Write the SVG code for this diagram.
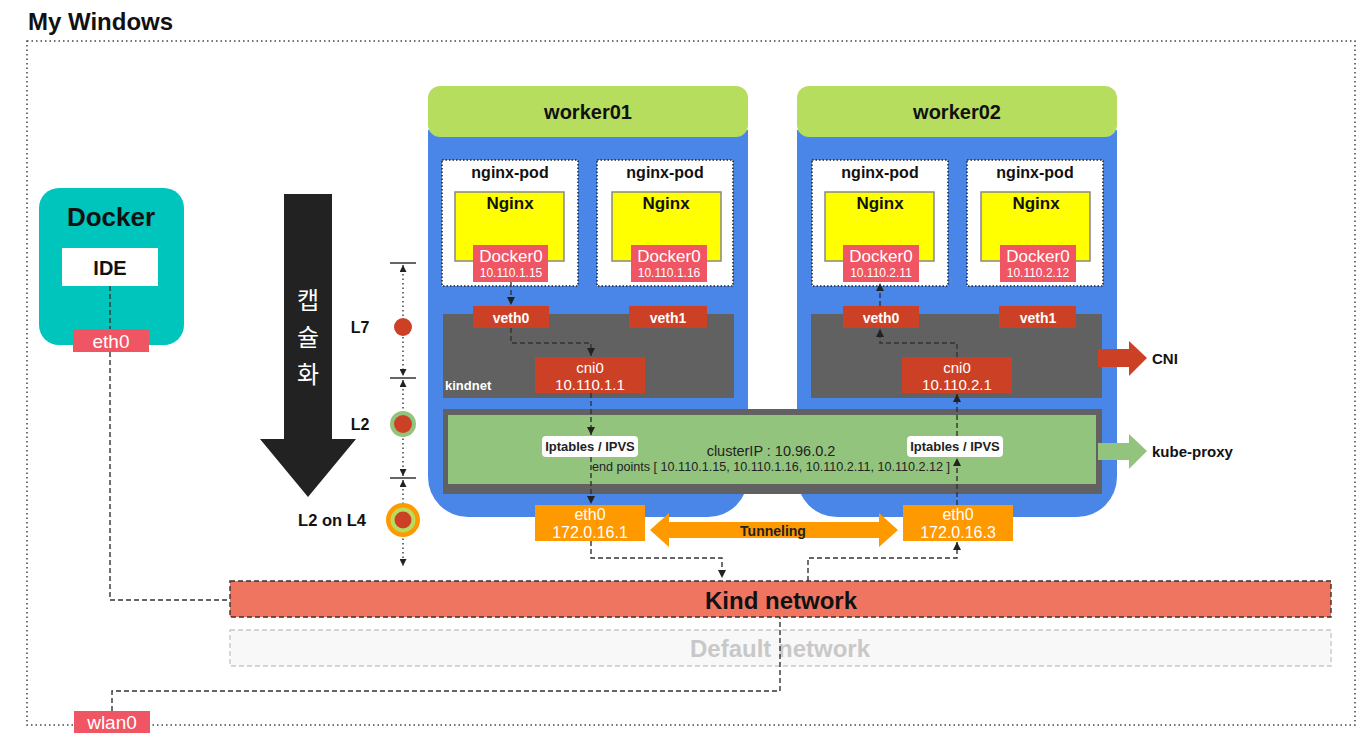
<svg xmlns="http://www.w3.org/2000/svg" width="1365" height="745" viewBox="0 0 1365 745">
<style>
text{font-family:"Liberation Sans",Arial,"Noto Sans CJK KR",sans-serif;}
.b{font-weight:bold;}
.c{text-anchor:middle;dominant-baseline:central;}
.wh{fill:#fff;}
.blk{fill:#111;}
.hdr{fill:#b7dd5f;}
.body{fill:#4a86e8;}
.pod{fill:#fff;stroke:#222;stroke-width:1.5;stroke-dasharray:1.5 2;}
.ngx{fill:#ffff00;stroke:#888;stroke-width:1.5;}
.dk0{fill:#ef5563;}
.veth{fill:#cc4125;}
.gray{fill:#616161;}
.grn{fill:#93c47d;}
.org{fill:#ff9900;}
.ipt{fill:#fff;}
.dash{fill:none;stroke:#333;stroke-width:1.4;stroke-dasharray:5 3;}
.dot{fill:none;stroke:#444;stroke-width:1.5;stroke-dasharray:1.5 3;}
.tick{stroke:#333;stroke-width:1.5;}
.pt{font-size:16px;font-weight:bold;fill:#111;}
.nt{font-size:17px;font-weight:bold;fill:#111;}
.d0{font-size:17px;fill:#fff;}
.ip{font-size:12px;fill:#fff;}
.ko{font-family:"Noto Sans CJK KR",sans-serif;font-size:24px;fill:#fff;}
</style>
<defs>
<marker id="ah" viewBox="0 0 8 8" refX="8" refY="4" markerWidth="8" markerHeight="8" markerUnits="userSpaceOnUse" orient="auto-start-reverse">
<path d="M0,0 L8,4 L0,8 z" fill="#222"/>
</marker>
<marker id="ahs" viewBox="0 0 8 8" refX="8" refY="4" markerWidth="7" markerHeight="7" markerUnits="userSpaceOnUse" orient="auto-start-reverse">
<path d="M0,0 L8,4 L0,8 z" fill="#222"/>
</marker>
</defs>
<rect width="1365" height="745" fill="#fff"/>

<g id="frame">
<rect x="27" y="41" width="1328" height="684" class="dot"/>
<text x="28" y="30" class="b blk" font-size="24">My Windows</text>
</g>

<g id="default-network">
<rect x="230" y="630" width="1101" height="36" fill="#f8f8f8" stroke="#c8c8c8" stroke-width="1.4" stroke-dasharray="5 3"/>
<text x="780" y="648" class="b c" font-size="24" fill="#c8c8c8">Default network</text>
</g>

<g id="kind-network">
<rect x="230" y="581" width="1101" height="36" fill="#f07561" stroke="#333" stroke-width="1.4" stroke-dasharray="5 3"/>
<text x="781" y="600" class="b c blk" font-size="24">Kind network</text>
</g>

<g id="docker">
<rect x="39" y="188" width="145" height="157" rx="20" fill="#00c5bc"/>
<text x="111" y="217" class="b c blk" font-size="26">Docker</text>
<rect x="62" y="248" width="96" height="38" fill="#fff"/>
<text x="110" y="268" class="b c blk" font-size="20">IDE</text>
<rect x="73" y="329" width="76" height="23" class="dk0"/>
<text x="111" y="341" class="c wh" font-size="19">eth0</text>
</g>

<g id="wlan0">
<rect x="74" y="711" width="76" height="22" class="dk0"/>
<text x="112" y="722" class="c wh" font-size="19">wlan0</text>
</g>

<g id="encapsulation">
<polygon points="284,194 332,194 332,439 356,439 308,497 260,439 284,439" fill="#222"/>
<text x="308" y="298" class="c ko">캡</text>
<text x="308" y="335" class="c ko">슐</text>
<text x="308" y="372" class="c ko">화</text>
</g>

<g id="layers">
<line x1="390" y1="263" x2="416" y2="263" class="tick"/>
<line x1="390" y1="378" x2="416" y2="378" class="tick"/>
<line x1="390" y1="478" x2="416" y2="478" class="tick"/>
<path class="dot" d="M403,265 V376" marker-start="url(#ahs)" marker-end="url(#ahs)"/>
<path class="dot" d="M403,380 V476" marker-start="url(#ahs)" marker-end="url(#ahs)"/>
<path class="dot" d="M403,480 V566" marker-start="url(#ahs)" marker-end="url(#ahs)"/>
<circle cx="403" cy="327" r="9" fill="#cc4125"/>
<circle cx="403" cy="424" r="13" fill="#93c47d"/>
<circle cx="403" cy="424" r="9" fill="#cc4125"/>
<circle cx="403" cy="520" r="17" fill="#ff9900"/>
<circle cx="403" cy="520" r="12.5" fill="#b7dd5f"/>
<circle cx="403" cy="520" r="8.5" fill="#cc4125"/>
<text x="360" y="327" class="b c blk" font-size="16">L7</text>
<text x="360" y="424" class="b c blk" font-size="16">L2</text>
<text x="332" y="520" class="b c blk" font-size="16.5">L2 on L4</text>
</g>

<g id="worker01">
<path class="body" d="M428,130 H748 V477 A40,40 0 0 1 708,517 H468 A40,40 0 0 1 428,477 Z"/>
<rect x="428" y="86" width="320" height="51" rx="12" class="hdr"/>
<text x="588" y="112" class="b c blk" font-size="20">worker01</text>
</g>

<g id="worker02">
<path class="body" d="M797,130 H1117 V477 A40,40 0 0 1 1077,517 H837 A40,40 0 0 1 797,477 Z"/>
<rect x="797" y="86" width="320" height="51" rx="12" class="hdr"/>
<text x="957" y="112" class="b c blk" font-size="20">worker02</text>
</g>

<g id="pod-w1-1">
<rect x="442" y="160" width="136" height="126" class="pod"/>
<text x="510" y="172" class="c pt">nginx-pod</text>
<rect x="455" y="192" width="109" height="69" class="ngx"/>
<text x="510" y="203" class="c nt">Nginx</text>
<rect x="473" y="245" width="75" height="37" class="dk0"/>
<text x="511" y="256" class="c d0">Docker0</text>
<text x="511" y="273" class="c ip">10.110.1.15</text>
</g>
<g id="pod-w1-2">
<rect x="597" y="160" width="136" height="126" class="pod"/>
<text x="665" y="172" class="c pt">nginx-pod</text>
<rect x="612" y="192" width="109" height="69" class="ngx"/>
<text x="666" y="203" class="c nt">Nginx</text>
<rect x="631" y="245" width="76" height="37" class="dk0"/>
<text x="669" y="256" class="c d0">Docker0</text>
<text x="669" y="273" class="c ip">10.110.1.16</text>
</g>
<g id="pod-w2-1">
<rect x="812" y="160" width="136" height="126" class="pod"/>
<text x="880" y="172" class="c pt">nginx-pod</text>
<rect x="825" y="192" width="109" height="69" class="ngx"/>
<text x="880" y="203" class="c nt">Nginx</text>
<rect x="843" y="245" width="76" height="37" class="dk0"/>
<text x="881" y="256" class="c d0">Docker0</text>
<text x="881" y="273" class="c ip">10.110.2.11</text>
</g>
<g id="pod-w2-2">
<rect x="967" y="160" width="136" height="126" class="pod"/>
<text x="1035" y="172" class="c pt">nginx-pod</text>
<rect x="981" y="192" width="109" height="69" class="ngx"/>
<text x="1036" y="203" class="c nt">Nginx</text>
<rect x="1000" y="245" width="76" height="37" class="dk0"/>
<text x="1038" y="256" class="c d0">Docker0</text>
<text x="1038" y="273" class="c ip">10.110.2.12</text>
</g>

<g id="kindnet-w1">
<rect x="443" y="314" width="291" height="84" class="gray"/>
<text x="445" y="385" class="b wh" font-size="13" dominant-baseline="central">kindnet</text>
<rect x="473" y="306" width="76" height="22" class="veth"/>
<text x="511" y="318" class="b c wh" font-size="14">veth0</text>
<rect x="629" y="306" width="78" height="22" class="veth"/>
<text x="668" y="318" class="b c wh" font-size="14">veth1</text>
<rect x="535" y="357" width="110" height="36" class="veth"/>
<text x="590" y="367" class="c wh" font-size="15">cni0</text>
<text x="590" y="384" class="c wh" font-size="15">10.110.1.1</text>
</g>

<g id="kindnet-w2">
<rect x="811" y="314" width="291" height="84" class="gray"/>
<rect x="843" y="306" width="76" height="22" class="veth"/>
<text x="881" y="318" class="b c wh" font-size="14">veth0</text>
<rect x="999" y="306" width="77" height="22" class="veth"/>
<text x="1038" y="318" class="b c wh" font-size="14">veth1</text>
<rect x="902" y="357" width="110" height="36" class="veth"/>
<text x="957" y="367" class="c wh" font-size="15">cni0</text>
<text x="957" y="384" class="c wh" font-size="15">10.110.2.1</text>
</g>

<g id="kube-proxy-band">
<rect x="443" y="409" width="659" height="85" class="gray"/>
<rect x="448" y="415" width="648" height="69" class="grn"/>
<text x="771" y="451" class="c" font-size="14.5" fill="#222">clusterIP : 10.96.0.2</text>
<text x="771" y="467" class="c" font-size="12.6" fill="#222">end points [ 10.110.1.15, 10.110.1.16, 10.110.2.11, 10.110.2.12 ]</text>
<rect x="542" y="436" width="96" height="21" rx="4" class="ipt"/>
<text x="590" y="446.5" class="b c" font-size="13" fill="#222">Iptables / IPVS</text>
<rect x="907" y="436" width="96" height="21" rx="4" class="ipt"/>
<text x="955" y="446.5" class="b c" font-size="13" fill="#222">Iptables / IPVS</text>
</g>

<g id="eth0-w1">
<rect x="535" y="505" width="110" height="36" class="org"/>
<text x="590" y="514" class="c wh" font-size="16">eth0</text>
<text x="590" y="532" class="c wh" font-size="16">172.0.16.1</text>
</g>
<g id="eth0-w2">
<rect x="903" y="505" width="110" height="36" class="org"/>
<text x="958" y="514" class="c wh" font-size="16">eth0</text>
<text x="958" y="532" class="c wh" font-size="16">172.0.16.3</text>
</g>

<g id="tunneling">
<polygon points="650,530 669,513 669,522 879,522 879,513 898,530 879,547 879,538 669,538 669,547" fill="#ff9900"/>
<text x="773" y="531" class="b c" font-size="14" fill="#222">Tunneling</text>
</g>

<g id="cni-label">
<polygon points="1098,349 1129,349 1129,341 1147,358 1129,376 1129,367 1098,367" fill="#cc4125"/>
<text x="1152" y="358" class="b blk" font-size="15" dominant-baseline="central">CNI</text>
</g>
<g id="kube-proxy-label">
<polygon points="1098,443 1129,443 1129,434 1147,451 1129,469 1129,460 1098,460" fill="#93c47d"/>
<text x="1152" y="451" class="b blk" font-size="15" dominant-baseline="central">kube-proxy</text>
</g>

<g id="connectors">
<path class="dash" d="M110,286 V329"/>
<path class="dash" d="M110,352 V600 H230"/>
<path class="dash" d="M112,711 V691 H780 V617"/>
<path class="dash" d="M511,282 V305" marker-end="url(#ah)"/>
<path class="dash" d="M511,328 V343 H591 V356" marker-end="url(#ah)"/>
<path class="dash" d="M591,393 V435" marker-end="url(#ah)"/>
<path class="dash" d="M591,457 V504" marker-end="url(#ah)"/>
<path class="dash" d="M591,541 V558 H722 V578" marker-end="url(#ah)"/>
<path class="dash" d="M808,581 V558 H957 V542" marker-end="url(#ah)"/>
<path class="dash" d="M957,505 V458" marker-end="url(#ah)"/>
<path class="dash" d="M957,436 V394" marker-end="url(#ah)"/>
<path class="dash" d="M957,357 V343 H880 V329" marker-end="url(#ah)"/>
<path class="dash" d="M880,306 V283" marker-end="url(#ah)"/>
</g>
</svg>
